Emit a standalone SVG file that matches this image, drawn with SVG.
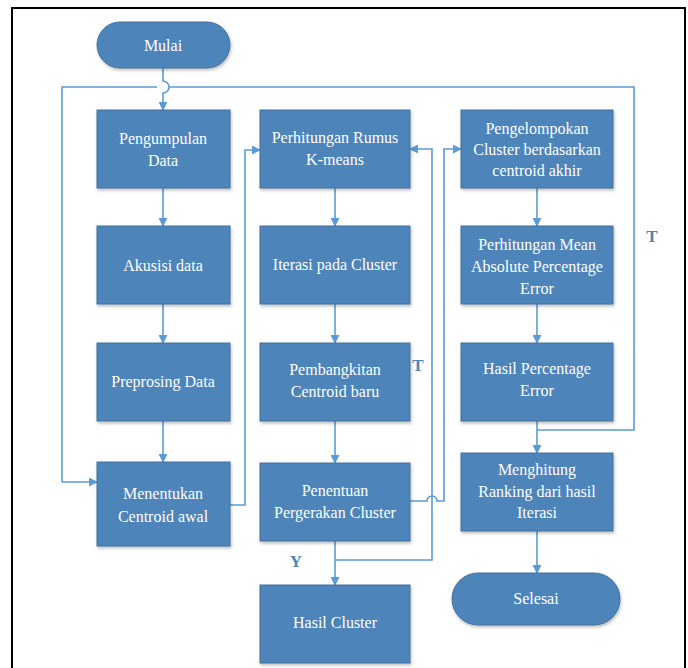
<svg xmlns="http://www.w3.org/2000/svg" width="688" height="668" viewBox="0 0 688 668">
<defs>
<marker id="ah" viewBox="0 0 10 10" refX="9" refY="5" markerWidth="9" markerHeight="9" markerUnits="userSpaceOnUse" orient="auto">
<path d="M0,0 L10,5 L0,10 Z" fill="#5b9bd5"/>
</marker>
<filter id="sh" x="-10%" y="-10%" width="130%" height="130%">
<feDropShadow dx="1" dy="2" stdDeviation="1.5" flood-color="#000" flood-opacity="0.25"/>
</filter>
<style>
.b{fill:#4e84ba;stroke:#41719c;stroke-width:1;filter:url(#sh)}
.t{font-size:16px;fill:#fff;text-anchor:middle;dominant-baseline:central}
.c{fill:none;stroke:#5b9bd5;stroke-width:1.6}
.a{marker-end:url(#ah)}
.l{font-size:17px;fill:#4e84ba;font-weight:bold;text-anchor:middle;dominant-baseline:central}
</style>
</defs>
<rect x="0" y="0" width="688" height="668" fill="#fff"/>
<path d="M12,672 L12,8 L685,8 L685,672" fill="none" stroke="#000" stroke-width="2"/>

<g id="connectors">
<path class="c a" d="M163,68 L163,81 A6,6 0 0 1 163,93 L163,110"/>
<path class="c" d="M157,87 L62,87 L62,482"/>
<path class="c a" d="M62,482 L97,482"/>
<path class="c" d="M169,87 L634,87 L634,430 L537,430"/>
<path class="c a" d="M163,188 L163,226"/>
<path class="c a" d="M163,304 L163,343"/>
<path class="c a" d="M163,421 L163,462"/>
<path class="c a" d="M230,505 L245,505 L245,150 L260,150"/>
<path class="c a" d="M335,188 L335,226"/>
<path class="c a" d="M335,304 L335,343"/>
<path class="c a" d="M335,421 L335,463"/>
<path class="c a" d="M335,541 L335,585"/>
<path class="c a" d="M335,560 L432,560 L432,149 L410,149"/>
<path class="c a" d="M410,501 L427,501 A5,5 0 0 1 437,501 L444,501 L444,149 L461,149"/>
<path class="c a" d="M537,188 L537,226"/>
<path class="c a" d="M537,304 L537,343"/>
<path class="c a" d="M537,421 L537,453"/>
<path class="c a" d="M537,531 L537,573"/>
</g>

<g font-family="'Liberation Serif', 'Times New Roman', serif">
<g id="mulai"><rect class="b" x="97" y="22" width="133" height="46" rx="23"/><text class="t" x="163" y="45">Mulai</text></g>
<g id="pengumpulan"><rect class="b" x="97" y="110" width="133" height="78"/><text class="t" x="163" y="138">Pengumpulan</text><text class="t" x="163" y="160">Data</text></g>
<g id="akusisi"><rect class="b" x="97" y="226" width="133" height="78"/><text class="t" x="163" y="265">Akusisi data</text></g>
<g id="preprosing"><rect class="b" x="97" y="343" width="133" height="78"/><text class="t" x="163" y="381">Preprosing Data</text></g>
<g id="menentukan"><rect class="b" x="97" y="462" width="133" height="84"/><text class="t" x="163" y="493">Menentukan</text><text class="t" x="163" y="516">Centroid awal</text></g>

<g id="perhitungan-rumus"><rect class="b" x="260" y="110" width="150" height="78"/><text class="t" x="335" y="137">Perhitungan Rumus</text><text class="t" x="335" y="159">K-means</text></g>
<g id="iterasi"><rect class="b" x="260" y="226" width="150" height="78"/><text class="t" x="335" y="264">Iterasi pada Cluster</text></g>
<g id="pembangkitan"><rect class="b" x="260" y="343" width="150" height="78"/><text class="t" x="335" y="369">Pembangkitan</text><text class="t" x="335" y="391">Centroid baru</text></g>
<g id="penentuan"><rect class="b" x="260" y="463" width="150" height="78"/><text class="t" x="335" y="490">Penentuan</text><text class="t" x="335" y="512">Pergerakan Cluster</text></g>
<g id="hasil-cluster"><rect class="b" x="260" y="585" width="150" height="78"/><text class="t" x="335" y="622">Hasil Cluster</text></g>

<g id="pengelompokan"><rect class="b" x="461" y="110" width="152" height="78"/><text class="t" x="537" y="128">Pengelompokan</text><text class="t" x="537" y="149">Cluster berdasarkan</text><text class="t" x="537" y="170">centroid akhir</text></g>
<g id="mape"><rect class="b" x="461" y="226" width="152" height="78"/><text class="t" x="537" y="244">Perhitungan Mean</text><text class="t" x="537" y="266">Absolute Percentage</text><text class="t" x="537" y="288">Error</text></g>
<g id="hasil-pe"><rect class="b" x="461" y="343" width="152" height="78"/><text class="t" x="537" y="368">Hasil Percentage</text><text class="t" x="537" y="390">Error</text></g>
<g id="ranking"><rect class="b" x="461" y="453" width="152" height="78"/><text class="t" x="537" y="469">Menghitung</text><text class="t" x="537" y="491">Ranking dari hasil</text><text class="t" x="537" y="512">Iterasi</text></g>
<g id="selesai"><rect class="b" x="452" y="573" width="168" height="52" rx="26"/><text class="t" x="536" y="598">Selesai</text></g>

<g id="labels">
<text class="l" x="652" y="236">T</text>
<text class="l" x="418" y="365">T</text>
<text class="l" x="296" y="561">Y</text>
</g>
</g>
</svg>
